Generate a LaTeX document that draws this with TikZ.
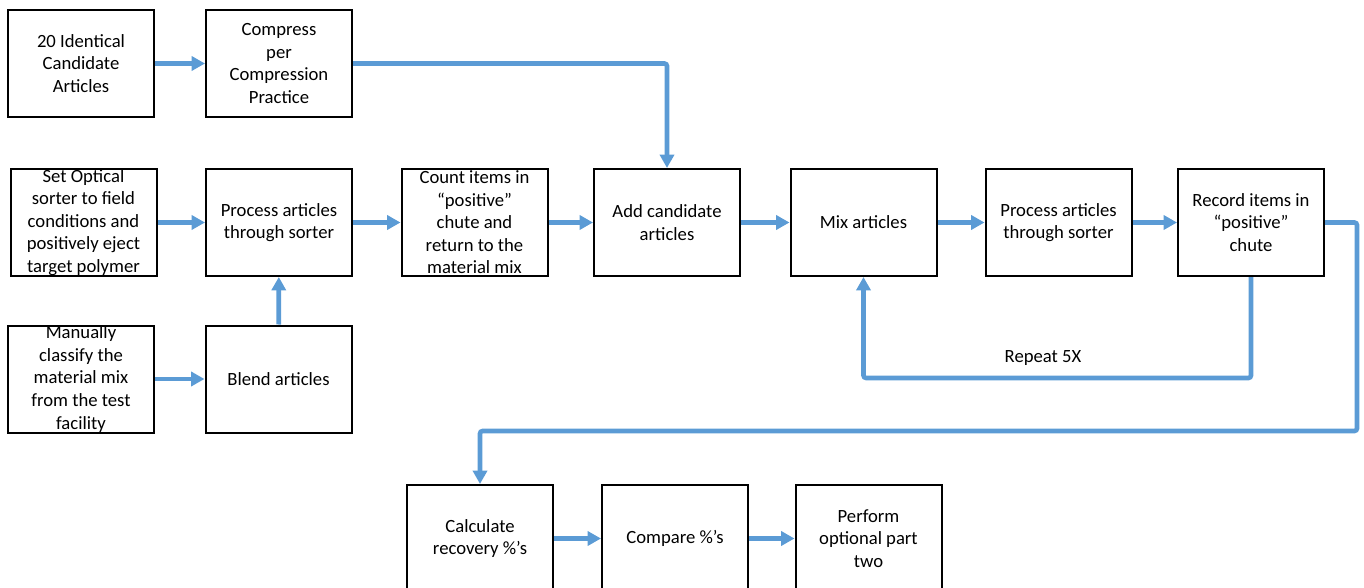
\documentclass[tikz,border=0pt]{standalone}
\usepackage{fontspec}
\setmainfont{Carlito}
\usetikzlibrary{arrows.meta}
\definecolor{flowblue}{HTML}{5B9BD5}
\tikzset{
  box/.style={draw, line width=1.5pt, minimum width=109.5pt, minimum height=80.25pt,
    inner sep=0pt, align=center, font=\fontsize{14}{16.9}\selectfont},
  flow/.style={draw=flowblue, line width=3.5pt, rounded corners=2pt,
    -{Triangle[length=10pt,width=10.5pt]}},
}
\begin{document}
\begin{tikzpicture}[x=0.75pt, y=-0.75pt]
            \useasboundingbox (0,0) rectangle (1364,588);
            % first row
            \node[box] (A1) at (81,63.5) {20 Identical\\Candidate\\Articles};
            \node[box] (A2) at (279,63.5) {Compress\\per\\Compression\\Practice};
            % sorter row
            \node[box] (B1) at (83.5,222.5) {Set Optical\\sorter to field\\conditions and\\positively eject\\target polymer};
            \node[box] (B2) at (279,222.5) {Process articles\\through sorter};
            \node[box] (B3) at (474.5,222.5) {Count items in\\“positive”\\chute and\\return to the\\material mix};
            \node[box] (B4) at (667,222.5) {Add candidate\\articles};
            \node[box] (B5) at (863.5,222.5) {Mix articles};
            \node[box] (B6) at (1058.5,222.5) {Process articles\\through sorter};
            \node[box] (B7) at (1251,222.5) {Record items in\\“positive”\\chute};
            % blend row
            \node[box] (C1) at (81,379) {Manually\\classify the\\material mix\\from the test\\facility};
            \node[box] (C2) at (278.5,379) {Blend articles};
            % result row
            \node[box] (D1) at (480,538.5) {Calculate\\recovery \%’s};
            \node[box] (D2) at (675,538.5) {Compare \%’s};
            \node[box] (D3) at (868.5,538.5) {Perform\\optional part\\two};
            \coordinate (R) at (863.5,378);
            \coordinate (S) at (1357,431);
            \draw[flow] (A1) -- (A2);
            \draw[flow] (A2.east) -| (B4.north);
            \draw[flow] (B1) -- (B2);
            \draw[flow] (B2) -- (B3);
            \draw[flow] (B3) -- (B4);
            \draw[flow] (B4) -- (B5);
            \draw[flow] (B5) -- (B6);
            \draw[flow] (B6) -- (B7);
            \draw[flow] (C1) -- (C2);
            \draw[flow] (C2) -- (B2);
            \draw[flow] (B7.south) |- (R) -- (B5.south);
            \node[font=\fontsize{14}{16.9}\selectfont] (rep) at (1043,358) {Repeat 5X};
            \draw[flow] (B7.east) -| (S) -| (D1.north);
            \draw[flow] (D1) -- (D2);
            \draw[flow] (D2) -- (D3);
        \end{tikzpicture}
\end{document}
